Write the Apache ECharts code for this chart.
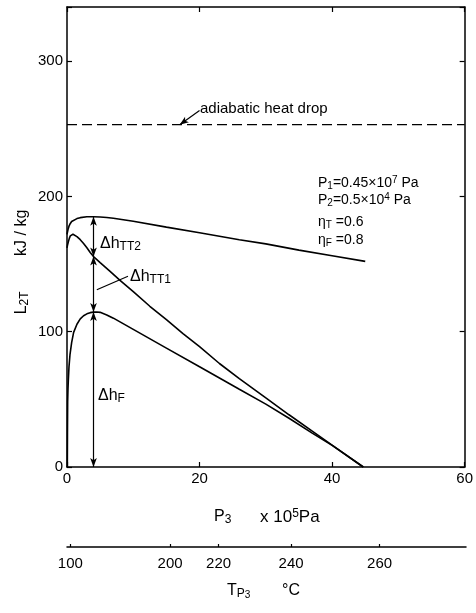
<!DOCTYPE html>
<html><head><meta charset="utf-8">
<script src="https://cdn.jsdelivr.net/npm/echarts@6/dist/echarts.min.js"></script>
<style>html,body{margin:0;padding:0;background:#fff;}#c{width:476px;height:613px;}</style>
</head><body><div id="c"></div>
<script>
// ---- data ----
const pTotal = [0, 0.15, 0.3, 0.5, 0.7, 1, 1.5, 2, 3, 4, 5, 6, 7, 8.5, 10, 15, 20, 26, 30, 35, 40, 45];
const lTotal = [172, 175.5, 178, 180, 181.5, 182.5, 183.6, 184.3, 185, 185, 184.8, 184.4, 183.8, 182.8, 181.6, 177.3, 173.1, 168, 164.9, 160.3, 156.2, 152];

const pTT1 = [0, 0.1, 0.2, 0.35, 0.5, 0.7, 0.9, 1.1, 1.5, 2, 2.5, 3, 3.5, 4, 5, 6.5, 8, 10, 12.5, 15, 17.5, 20, 23, 26, 30, 33.5, 37, 40, 44.7];
const lTT1 = [162, 164.5, 166.5, 169, 170.8, 171.8, 172, 171.6, 170.3, 168, 165.2, 162, 158.6, 155.5, 151.1, 144.6, 138, 129.6, 118.8, 108.9, 98.6, 88.9, 76.5, 65.3, 51.1, 38.6, 26.5, 16.2, 0];

const pF = [0.05, 0.07, 0.1, 0.15, 0.2, 0.3, 0.45, 0.7, 1, 1.5, 2, 2.5, 3, 3.5, 4, 4.5, 5, 6, 7, 10, 15, 20, 26, 30, 33.5, 37, 40, 44.7];
const lF = [0, 25, 48, 58, 64, 74, 83, 92, 99.5, 105.5, 109.5, 111.8, 113.2, 114.1, 114.5, 114.6, 114.3, 112.4, 110, 101.7, 87.9, 74.1, 57.5, 46.5, 36, 25, 16, 0];

const pAdiabatic = [0, 60];
const lAdiabatic = [253, 253];

const arrowP = 4;
const arrowLevels = [0, 114.5, 155.5, 185];

const xTicks = [0, 20, 40, 60];
const yTicks = [0, 100, 200, 300];
const tempLabels = ['100', '200', '220', '240', '260'];
const tempPressures = [0.5, 15.5, 22.8, 33.7, 47.0];

// ---- chart ----
const FONT = '"Liberation Sans", Arial, sans-serif';
const zip = (xs, ys) => xs.map((x, i) => [x, ys[i]]);
const black = '#000';

function richSet(size) {
  return {
    a: { fontSize: size, lineHeight: size + 2, verticalAlign: 'middle', fill: black, fontFamily: FONT },
    s: { fontSize: Math.round(size * 0.72), lineHeight: Math.round(size * 0.6), verticalAlign: 'bottom', fill: black, fontFamily: FONT },
    ss: { fontSize: Math.round(size * 0.62), lineHeight: Math.round(size * 0.3), verticalAlign: 'bottom', fill: black, fontFamily: FONT },
    p: { fontSize: Math.round(size * 0.72), lineHeight: Math.round(size * 0.6), verticalAlign: 'top', fill: black, fontFamily: FONT }
  };
}
function txt(x, y, text, size, align, rotation) {
  const el = {
    type: 'text', x: x, y: y, silent: true,
    style: { text: text, rich: richSet(size), fontSize: size, fontFamily: FONT, fill: black, align: align || 'left', verticalAlign: 'middle' }
  };
  if (rotation) el.rotation = rotation;
  return el;
}

const chart = echarts.init(document.getElementById('c'), null, { renderer: 'canvas' });
const axisLine = { show: true, onZero: false, lineStyle: { color: black, width: 1.5 } };
const tick = { show: true, inside: true, length: 5, lineStyle: { color: black, width: 1.2 } };
const labelStyle = { color: black, fontFamily: FONT, fontSize: 15 };

const arrowPairs = [];
for (let i = 0; i < arrowLevels.length - 1; i++) {
  arrowPairs.push([{ coord: [arrowP, arrowLevels[i]] }, { coord: [arrowP, arrowLevels[i + 1]] }]);
}

chart.setOption({
  animation: false,
  backgroundColor: '#fff',
  grid: [
    { left: 67, right: 10, top: 7, bottom: 146 },
    { left: 67, right: 10, top: 546, height: 1 }
  ],
  xAxis: [
    { type: 'value', gridIndex: 0, min: xTicks[0], max: xTicks[xTicks.length - 1], interval: 20, position: 'bottom',
      axisLine: axisLine, axisTick: tick,
      axisLabel: Object.assign({ margin: 4 }, labelStyle), splitLine: { show: false } },
    { type: 'value', gridIndex: 0, min: xTicks[0], max: xTicks[xTicks.length - 1], interval: 20, position: 'top',
      axisLine: axisLine, axisTick: tick,
      axisLabel: { show: false }, splitLine: { show: false } },
    { type: 'value', gridIndex: 1, min: 0, max: 60, position: 'bottom',
      axisLine: axisLine,
      axisTick: { show: true, inside: true, length: 3, customValues: tempPressures, lineStyle: { color: black, width: 1.2 } },
      axisLabel: Object.assign({ margin: 9, customValues: tempPressures,
        formatter: function (v) { const i = tempPressures.indexOf(v); return i >= 0 ? tempLabels[i] : ''; } }, labelStyle),
      splitLine: { show: false } }
  ],
  yAxis: [
    { type: 'value', gridIndex: 0, min: yTicks[0], max: 340, interval: 100, position: 'left',
      axisLine: axisLine, axisTick: tick,
      axisLabel: Object.assign({ margin: 4, formatter: function (v) { return yTicks.indexOf(v) >= 0 ? String(v) : ''; } }, labelStyle),
      splitLine: { show: false } },
    { type: 'value', gridIndex: 0, min: yTicks[0], max: 340, interval: 100, position: 'right',
      axisLine: axisLine, axisTick: tick,
      axisLabel: { show: false }, splitLine: { show: false } },
    { type: 'value', gridIndex: 1, show: false, min: 0, max: 1 }
  ],
  series: [
    { name: 'total', type: 'line', xAxisIndex: 0, yAxisIndex: 0, data: zip(pTotal, lTotal),
      smooth: false, showSymbol: false, silent: true,
      lineStyle: { color: black, width: 1.6 },
      markLine: {
        silent: true, animation: false, label: { show: false },
        symbol: ['arrow', 'arrow'], symbolSize: [5, 9],
        lineStyle: { color: black, width: 1.2, type: 'solid' },
        emphasis: { disabled: true },
        data: arrowPairs.concat([
          [{ coord: [4.5, 131], symbol: 'none' }, { coord: [9.2, 141], symbol: 'none' }],
          [{ coord: [17, 253], symbol: 'arrow' }, { coord: [20, 263.5], symbol: 'none' }]
        ])
      } },
    { name: 'tt1', type: 'line', xAxisIndex: 0, yAxisIndex: 0, data: zip(pTT1, lTT1),
      smooth: false, showSymbol: false, silent: true,
      lineStyle: { color: black, width: 1.6 } },
    { name: 'f', type: 'line', xAxisIndex: 0, yAxisIndex: 0, data: zip(pF, lF),
      smooth: false, showSymbol: false, silent: true,
      lineStyle: { color: black, width: 1.6 } },
    { name: 'adiabatic', type: 'line', xAxisIndex: 0, yAxisIndex: 0, data: zip(pAdiabatic, lAdiabatic),
      showSymbol: false, silent: true,
      lineStyle: { color: black, width: 1.3, type: [10, 5] } }
  ],
  graphic: [
    txt(200, 109, 'adiabatic heat drop', 15),
    txt(318, 183, '{a|P}{s|1}{a|=0.45×10}{p|7}{a| Pa}', 14),
    txt(318, 200, '{a|P}{s|2}{a|=0.5×10}{p|4}{a| Pa}', 14),
    txt(318, 222, '{a|η}{s|T}{a| =0.6}', 14),
    txt(318, 240, '{a|η}{s|F}{a| =0.8}', 14),
    txt(100, 244, '{a|Δh}{s|TT2}', 16),
    txt(130, 277, '{a|Δh}{s|TT1}', 16),
    txt(98, 396, '{a|Δh}{s|F}', 16),
    txt(214, 517, '{a|P}{s|3}', 16),
    txt(260, 517, '{a|x 10}{p|5}{a|Pa}', 17),
    txt(227, 591, '{a|T}{s|P}{ss|3}', 16),
    txt(282, 591, '{a|°C}', 16),
    txt(22, 262, '{a|L}{s|2T}        {a|kJ / kg}', 16, 'center', Math.PI / 2)
  ]
});
</script>
</body></html>
